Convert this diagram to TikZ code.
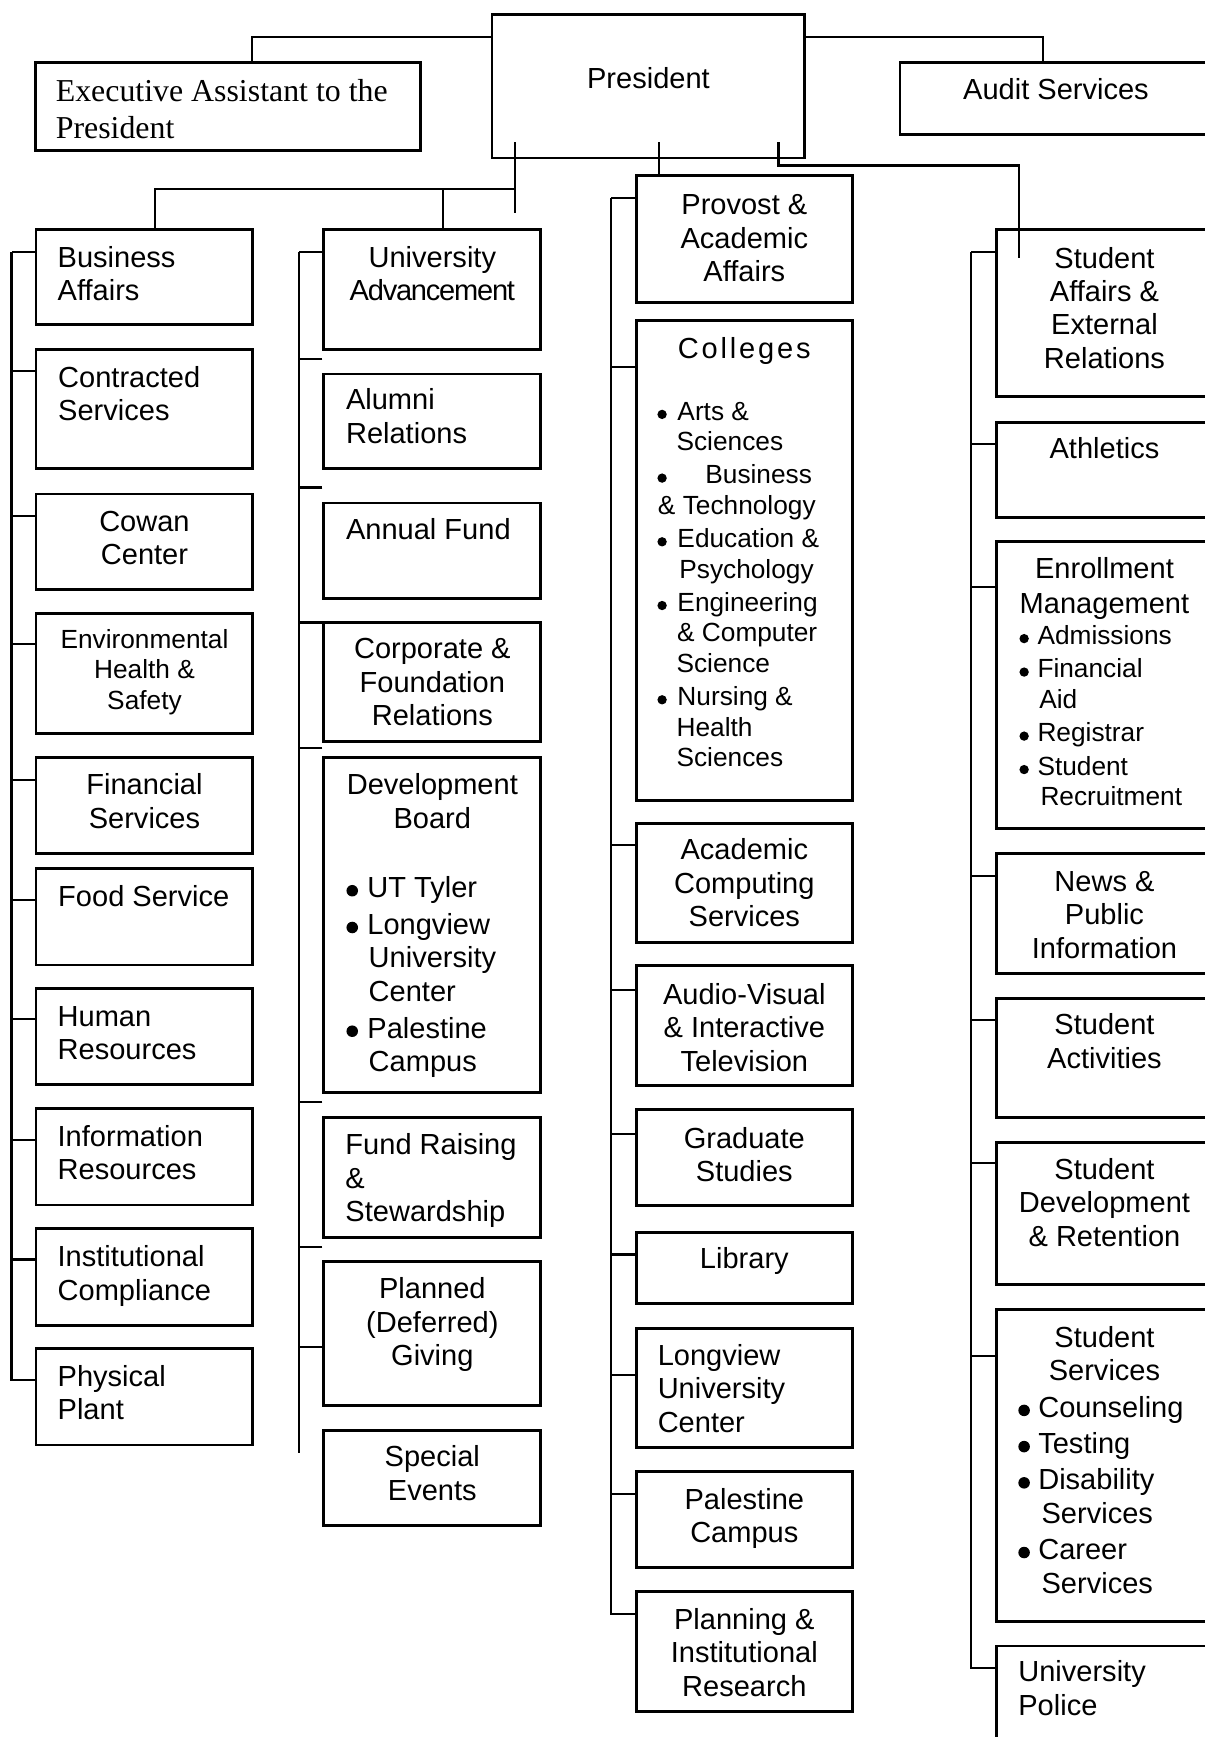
\documentclass[tikz,border=0pt]{standalone}
\usepackage{fontspec}
\setmainfont{Liberation Sans}
\newfontfamily\timesfont{Liberation Serif}
\usetikzlibrary{calc}
\newdimen\unitlen
\unitlen=0.025cm
\newcommand\mainsize{\fontsize{18.64pt}{21.48pt}\selectfont}
\newcommand\smallsize{\fontsize{16.86pt}{19.63pt}\selectfont}
\newcommand\orgtext[4]{\parbox[c][#2\unitlen][t]{#1\unitlen}{\rule{0pt}{#3\unitlen}#4}}
\newcommand\lft[1][19.5]{\raggedright\leftskip=#1\unitlen\relax\ignorespaces}
\newcommand\bul[2]{\hspace*{#1\unitlen}\makebox[#2\unitlen][l]{\tikz[baseline=0pt]\fill (3.7pt,4.5pt) circle[radius=3.7pt];}}
\newcommand\sbul[2]{\hspace*{#1\unitlen}\makebox[#2\unitlen][l]{\tikz[baseline=0pt]\fill (3pt,3.7pt) circle[radius=3pt];}}
\newcommand\indt[1]{\hspace*{#1\unitlen}}
\tikzstyle{box}=[draw, line width=1.8pt, inner sep=0pt, anchor=north west, font=\mainsize]
\tikzstyle{link}=[line width=1.4pt]

\begin{document}
\begin{tikzpicture}[x=0.025cm, y=-0.025cm]
		\useasboundingbox[fill=white] (0,0) rectangle (1087,1568);
		
		\node[box] (pres) at (442.9,12) {\orgtext{282.4}{129.4}{66.8}{\centering President}};
		\node[box] (exec) at (31.1,55.1) {\orgtext{347.2}{79.7}{35.2}{\timesfont\fontsize{20.46pt}{23.47pt}\selectfont\lft[18] Executive Assistant to the\\President}};
		\node[box] (audit) at (811.2,55) {\orgtext{281.6}{65.4}{33.8}{\centering Audit Services}};
		
		%business affairs
		\node[box] (ba) at (31.3,206) {\orgtext{195.7}{85.9}{34}{\lft Business\\Affairs}};
		\node[box] (cs) at (31.3,314.5) {\orgtext{195.7}{107.5}{34}{\lft[20] Contracted\\Services}};
		\node[box] (cc) at (31.3,444.6) {\orgtext{195.7}{86.1}{33.5}{\centering Cowan\\Center}};
		\node[box] (ehs) at (31.3,552.6) {\orgtext{195.7}{108}{31.3}{\smallsize\centering Environmental\\Health \&\\Safety}};
		\node[box] (fs) at (31.3,682.2) {\orgtext{195.7}{87.1}{33.8}{\centering Financial\\Services}};
		\node[box] (fd) at (31.3,782.8) {\orgtext{195.7}{87.1}{33.8}{\lft[20] Food Service}};
		\node[box] (hr) at (31.3,891) {\orgtext{195.7}{86.9}{34}{\lft Human\\Resources}};
		\node[box] (ir) at (31.3,999.6) {\orgtext{195.7}{86.8}{34}{\lft Information\\Resources}};
		\node[box] (ic) at (31.3,1107.8) {\orgtext{195.7}{87.2}{34.4}{\lft Institutional\\Compliance}};
		\node[box] (pp) at (31.3,1216.3) {\orgtext{195.7}{86.9}{33.7}{\lft Physical\\Plant}};
		
		%university advancement
		\node[box] (ua) at (291.1,206.1) {\orgtext{195.8}{108.4}{34}{\centering University\\\addfontfeature{LetterSpace=-4.2}Advancement}};
		\node[box] (ar) at (291.1,336.4) {\orgtext{195.8}{85.6}{32.2}{\lft[20] Alumni\\Relations}};
		\node[box] (af) at (291.1,452.7) {\orgtext{195.8}{86.1}{32.9}{\lft[20] Annual Fund}};
		\node[box] (cf) at (291.1,560.4) {\orgtext{195.8}{108}{33.2}{\centering Corporate \&\\Foundation\\Relations}};
		\node[box] (db) at (291.1,682.2) {\orgtext{195.8}{303}{33.8}{{\centering Development\\Board\par}\vspace{32.7\unitlen}\raggedright
			\bul{20.4}{18.9}UT Tyler\\[3\unitlen]
			\bul{20.4}{18.9}Longview\\\indt{40.5}University\\\indt{40.5}Center\\[3\unitlen]
			\bul{20.4}{18.9}Palestine\\\indt{40.5}Campus}};
		\node[box] (fr) at (291.1,1007.6) {\orgtext{195.8}{107.9}{33.4}{\lft Fund Raising\\\&\\Stewardship}};
		\node[box] (pg) at (291.1,1137.8) {\orgtext{195.8}{129.7}{33.5}{\centering Planned\\(Deferred)\\Giving}};
		\node[box] (se) at (291.1,1289.8) {\orgtext{195.8}{86.2}{32.8}{\centering Special\\Events}};
		
		%provost
		\node[box] (pa) at (573,157) {\orgtext{195.3}{114.5}{35.6}{\centering Provost \&\\Academic\\Affairs}};
		\node[box] (co) at (573,288) {\orgtext{195.3}{433}{34}{{\centering\addfontfeature{LetterSpace=9.8}Colleges\par}\vspace{28.4\unitlen}\smallsize\raggedright
			\sbul{19.2}{18.1}Arts \&\\\indt{36.5}Sciences\\[2.3\unitlen]
			\sbul{19.2}{43.3}Business\\\indt{19.7}\& Technology\\[2.3\unitlen]
			\sbul{19.2}{18.1}Education \&\\\indt{39}Psychology\\[2.3\unitlen]
			\sbul{19.2}{18.1}Engineering\\\indt{37}\& Computer\\\indt{36.5}Science\\[2.3\unitlen]
			\sbul{19.2}{18.1}Nursing \&\\\indt{36.5}Health\\\indt{36.5}Sciences}};
		\node[box] (acs) at (573,741.8) {\orgtext{195.3}{107.4}{33.1}{\centering Academic\\Computing\\Services}};
		\node[box] (av) at (573,870.3) {\orgtext{195.3}{108.6}{34.9}{\centering Audio-Visual\\\& Interactive\\Television}};
		\node[box] (gs) at (573,1000.6) {\orgtext{195.3}{86.6}{34.6}{\centering Graduate\\Studies}};
		\node[box] (lib) at (573,1111) {\orgtext{195.3}{64.7}{32.5}{\centering Library}};
		\node[box] (luc) at (573,1197.7) {\orgtext{195.3}{107.7}{33.3}{\lft Longview\\University\\Center}};
		\node[box] (pc) at (573,1327.4) {\orgtext{195.3}{86.6}{33.7}{\centering Palestine\\Campus}};
		\node[box] (pir) at (573,1435.7) {\orgtext{195.3}{108.3}{33.7}{\centering Planning \&\\Institutional\\Research}};
		
		%student affairs
		\node[box] (sa) at (898,206.1) {\orgtext{195.5}{150.9}{34.6}{\centering Student\\Affairs \&\\External\\Relations}};
		\node[box] (ath) at (898,379.8) {\orgtext{195.5}{86}{32.5}{\centering Athletics}};
		\node[box] (em) at (898,487.5) {\orgtext{195.5}{259}{33.5}{{\centering Enrollment\\[1.6\unitlen]Management\par}\smallsize\raggedright
			\sbul{21}{16.3}Admissions\\[2.6\unitlen]
			\sbul{21}{16.3}Financial\\\indt{39}Aid\\[2.6\unitlen]
			\sbul{21}{16.3}Registrar\\[2.6\unitlen]
			\sbul{21}{16.3}Student\\\indt{40}Recruitment}};
		\node[box] (npi) at (898,769.5) {\orgtext{195.5}{107.7}{34}{\centering News \&\\Public\\Information}};
		\node[box] (sact) at (898,899.8) {\orgtext{195.5}{107.4}{33.1}{\centering Student\\Activities}};
		\node[box] (sdr) at (898,1029.8) {\orgtext{195.5}{128.8}{33.4}{\centering Student\\Development\\\& Retention}};
		\node[box] (ss) at (898,1181) {\orgtext{195.5}{281.8}{34}{{\centering Student\\Services\par}\vspace{2.8\unitlen}\raggedright
			\bul{20}{18}Counseling\\[2.5\unitlen]
			\bul{20}{18}Testing\\[2.5\unitlen]
			\bul{20}{18}Disability\\\indt{41}Services\\[2.5\unitlen]
			\bul{20}{18}Career\\\indt{41}Services}};
		\node[box] (up) at (898,1484.5) {\orgtext{195.5}{115}{32.5}{\lft[20] University\\Police}};
		
		%president to offices
		\draw[link] ($(pres.north west)+(0,21.1)$) -| ($(exec.north)+(21.6,0)$);
		\draw[link] ($(pres.north east)+(0,21.1)$) -| ($(audit.north west)+(130.4,0)$);
		\draw[link] ($(pres.south west)+(21.8,-15.6)$) -- ($(pres.south west)+(21.8,48.2)$);
		\coordinate (hub) at ($(pres.south west)+(21.8,26.5)$);
		\draw[link] (hub) -| ($(ba.north west)+(108.6,0)$);
		\draw[link] (hub) -| ($(ua.north west)+(109,0)$);
		\draw[link] ($(pres.south west)+(152,-15.6)$) -- ($(pa.north west)+(21.9,0)$);
		\draw[link] ($(pres.south west)+(259.8,-15.6)$) |- ($(pres.south west)+(476.8,5.5)$) -- ($(sa.north west)+(21.7,26.5)$);
		
		%first bus
		\coordinate (busA) at ($(ba.north west)+(-20.9,21.8)$);
		\foreach \n/\d in {ba/21.8,cs/20.5,cc/21,ehs/29,fs/22,fd/29.3,hr/29,ir/29.4,ic/29.2}
			\draw[link] (\n.north west) ++(0,\d) coordinate (stub) -- (stub -| busA);
		\draw[link] (busA) |- ($(pp.north west)+(0,29.4)$);
		
		%second bus
		\coordinate (busB) at ($(ua.north west)+(-20.9,21.7)$);
		\foreach \n/\d in {ua/21.7,ar/-12,af/-12.7,cf/1.6,db/-7.2,fr/-12.6,pg/-12.3,pg/78.2}
			\draw[link] (\n.north west) ++(0,\d) coordinate (stub) -- (stub -| busB);
		\draw[link] (busB) -- ($(busB |- se.north)+(0,21.7)$);
		
		%third bus
		\coordinate (busC) at ($(pa.north west)+(-21.6,22)$);
		\foreach \n/\d in {pa/22,co/43,acs/21.1,av/23.5,gs/23.1,lib/21.4,luc/43.3,pc/21}
			\draw[link] (\n.north west) ++(0,\d) coordinate (stub) -- (stub -| busC);
		\draw[link] (busC) |- ($(pir.north west)+(0,21.1)$);
		
		%fourth bus
		\coordinate (busD) at ($(sa.north west)+(-21.4,21.7)$);
		\foreach \n/\d in {sa/21.7,ath/21,em/42.5,npi/21.3,sact/21,sdr/20.4,ss/43.2}
			\draw[link] (\n.north west) ++(0,\d) coordinate (stub) -- (stub -| busD);
		\draw[link] (busD) |- ($(up.north west)+(0,21.4)$);
\end{tikzpicture}
\end{document}
